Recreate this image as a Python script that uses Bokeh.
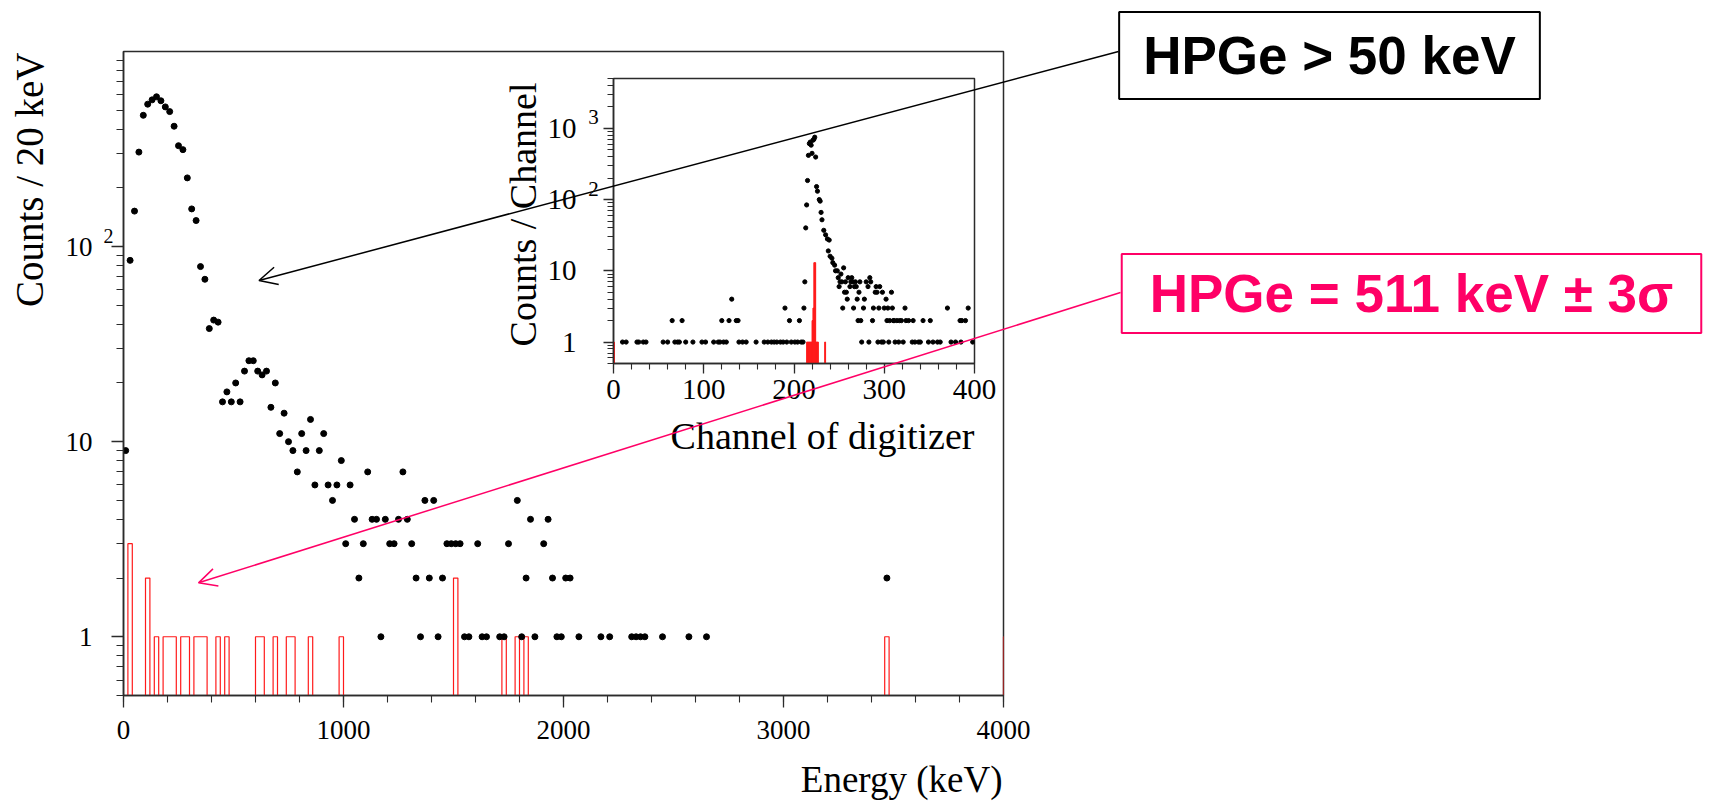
import math

from bokeh.plotting import figure
from bokeh.models import Range1d, FixedTicker, Label, Arrow, OpenHead, ColumnDataSource
from bokeh.embed import file_html
from bokeh.resources import INLINE

# ---------------- data ----------------
# HPGe > 50 keV: counts per 20 keV bin (bin centres, keV)
energy_kev = [
    10, 30, 50, 70, 90, 110, 130, 150, 170, 190,
    210, 230, 250, 270, 290, 310, 330, 350, 370, 390,
    410, 430, 450, 470, 490, 510, 530, 550, 570, 590,
    610, 630, 650, 670, 690, 710, 730, 750, 770, 790,
    810, 830, 850, 870, 890, 910, 930, 950, 970, 990,
    1010, 1030, 1050, 1070, 1090, 1110, 1130, 1150, 1170, 1190,
    1210, 1230, 1250, 1270, 1290, 1310, 1330, 1350, 1370, 1390,
    1410, 1430, 1450, 1470, 1490, 1510, 1530, 1550, 1570,
    1610, 1630, 1650, 1710, 1730, 1750, 1790, 1810, 1830, 1850, 1870,
    1910, 1930, 1950, 1970, 1990, 2010, 2030, 2070, 2170, 2210,
    2310, 2330, 2350, 2370, 2450, 2570, 2650, 3470,
]
counts_all = [
    9, 85, 152, 305, 471, 537, 565, 586, 559, 520,
    492, 414, 329, 314, 225, 156, 136, 79, 68, 38,
    42, 41, 16, 18, 16, 20, 16, 23, 26, 26,
    23, 22, 23, 15, 20, 11, 14, 10, 9, 7,
    11, 9, 13, 6, 9, 11, 6, 5, 6, 8,
    3, 6, 4, 2, 3, 7, 4, 4, 1, 4,
    3, 3, 4, 7, 4, 3, 2, 1, 5, 2,
    5, 1, 2, 3, 3, 3, 3, 1, 1,
    3, 1, 1, 1, 1, 3, 5, 1, 2, 4, 1,
    3, 4, 2, 1, 1, 2, 2, 1, 1, 1,
    1, 1, 1, 1, 1, 1, 1, 2,
]

# HPGe = 511 keV +- 3 sigma: non-empty 20 keV bins (lower edge, keV)
coinc_bin_low = [-20, 20, 100, 140, 180, 200, 220, 260, 280, 320, 340, 360, 420,
                 460, 600, 620, 680, 740, 760, 840, 980, 1500, 1720, 1780, 1820,
                 3460, 4000]
coinc_counts = [1, 3, 2, 1, 1, 1, 1, 1, 1, 1, 1, 1, 1,
                1, 1, 1, 1, 1, 1, 1, 1, 2, 1, 1, 1,
                1, 1]

# inset: counts per digitizer channel
inset_channel = [
    10, 14, 26, 28, 33, 36, 55, 60, 65, 68, 71, 73, 76, 80, 88, 98, 102, 111,
    116, 118, 120, 122, 125, 128, 131, 136, 138, 139, 143, 147, 158, 167, 171,
    175, 178, 181, 185, 188, 190, 192, 195, 197, 201, 204, 206, 208, 210, 211,
    212, 213, 214, 215, 216, 217, 218, 219, 220, 221, 222, 223, 224, 225, 226,
    228, 229, 230, 231, 233, 235, 237, 238, 239, 240, 242, 243, 245, 246, 248,
    249, 250, 251, 252, 253, 254, 255, 256, 257, 258, 259, 260, 262, 263, 264,
    265, 266, 267, 268, 269, 270, 271, 272, 273, 274, 275, 277, 278, 280, 282,
    283, 284, 285, 287, 288, 290, 291, 292, 293, 294, 295, 297, 298, 299, 300,
    302, 303, 304, 305, 306, 308, 309, 310, 311, 312, 314, 316, 317, 319, 321,
    323, 324, 327, 331, 332, 334, 338, 340, 343, 349, 351, 354, 359, 362, 370,
    374, 379, 384, 385, 386, 390, 393, 398,
]
inset_counts = [
    1, 1, 1, 1, 1, 1, 1, 1, 2, 1, 1, 1, 2, 1, 1, 1, 1, 1,
    1, 1, 2, 1, 1, 2, 4, 2, 2, 1, 1, 1, 1, 1, 1,
    1, 1, 1, 1, 1, 3, 1, 2, 1, 1, 1, 2, 1, 1, 3,
    7, 40, 84, 185, 417, 610, 640, 580, 445, 680, 700, 750, 395, 152, 131,
    100, 95, 66, 52, 37, 32, 28, 19, 27, 16, 15, 13, 12, 10, 10,
    8, 6, 7, 9, 7, 3, 11, 5, 7, 5, 4, 8, 6, 7, 8,
    7, 3, 6, 7, 6, 4, 2, 5, 7, 2, 1, 3, 4, 7, 6,
    1, 8, 7, 2, 3, 5, 6, 5, 1, 3, 6, 1, 5, 1, 3,
    4, 2, 3, 1, 2, 5, 3, 2, 2, 1, 2, 1, 2, 2, 1,
    3, 2, 2, 1, 2, 1, 1, 1, 2, 1, 2, 1, 1, 1, 3,
    1, 1, 2, 1, 2, 2, 3, 1,
]

# inset: 511 keV-gated events per channel
inset_gate_channel = [0, 214, 215, 216, 217, 218, 219, 220, 221, 222, 223, 224, 225, 226, 234]
inset_gate_counts = [1, 1, 1, 1, 1, 1, 1, 2, 3, 13, 13, 1, 1, 1, 1]

# ---------------- styles ----------------
SERIF = "Liberation Serif"
AXIS_COLOR = "#2b2b2b"
RED = "#ff1a1a"
PINK = "#ff0066"
FLOOR = 0.05  # empty bins are drawn below the visible log range
BIN = 20

PAGE_W, PAGE_H = 1709, 803
# main frame geometry (pixels)
M_LEFT, M_RIGHT, M_TOP, M_BOTTOM = 123, 706, 51, 108
X_MIN, X_MAX = 0, 4000
Y_MIN, Y_MAX = 0.5, 1000


def step_outline(lows, vals, width, start, stop):
    """Closed step outline of a histogram; empty bins sit on FLOOR."""
    filled = dict(zip(lows, vals))
    xs, ys = [start], [FLOOR]
    lo = start
    while lo < stop:
        v = filled.get(lo, 0)
        v = v if v > 0 else FLOOR
        xs += [lo, lo + width]
        ys += [v, v]
        lo += width
    xs.append(stop)
    ys.append(FLOOR)
    return xs, ys


def style_axes(fig, label_px, tick_out, minor_out):
    for ax in (fig.xaxis, fig.yaxis):
        ax.axis_line_color = AXIS_COLOR
        ax.axis_line_width = 1.5
        ax.major_tick_line_color = AXIS_COLOR
        ax.minor_tick_line_color = AXIS_COLOR
        ax.major_tick_line_width = 1.3
        ax.minor_tick_line_width = 1.1
        ax.major_tick_in = 0
        ax.minor_tick_in = 0
        ax.major_tick_out = tick_out
        ax.minor_tick_out = minor_out
        ax.major_label_text_font = SERIF
        ax.major_label_text_font_size = label_px
        ax.major_label_text_color = "black"
    fig.xgrid.visible = False
    fig.ygrid.visible = False
    fig.outline_line_color = AXIS_COLOR
    fig.outline_line_width = 1.5
    fig.background_fill_alpha = 0
    fig.border_fill_alpha = 0


# ---------------- main spectrum ----------------
p = figure(
    width=PAGE_W, height=PAGE_H,
    x_range=Range1d(X_MIN, X_MAX), y_range=Range1d(Y_MIN, Y_MAX), y_axis_type="log",
    output_backend="svg", toolbar_location=None,
    min_border_left=M_LEFT, min_border_right=M_RIGHT,
    min_border_top=M_TOP, min_border_bottom=M_BOTTOM,
)
style_axes(p, "27px", 12, 7)
p.xaxis.ticker = FixedTicker(ticks=[0, 1000, 2000, 3000, 4000],
                             minor_ticks=list(range(0, 4001, 200)))
main_minor = [m * 10 ** k for k in range(-1, 3) for m in range(2, 10)]
p.yaxis.ticker = FixedTicker(ticks=[1, 10, 100],
                             minor_ticks=[t for t in main_minor if Y_MIN <= t <= Y_MAX])
p.yaxis.major_label_overrides = {1: "1", 10: "10", 100: "10"}
p.xaxis.major_label_standoff = 13
p.yaxis.major_label_standoff = 19

hx, hy = step_outline(coinc_bin_low, coinc_counts, BIN, -20, 4020)
p.line(hx, hy, line_color=RED, line_width=1.2)
p.scatter(energy_kev, counts_all, size=6, marker="circle",
          fill_color="black", line_color="black")

# ---------------- inset: digitizer channels ----------------
INS_LEFT, INS_TOP = 480, 60
INS_W, INS_H = 520, 420
ins = figure(
    width=INS_W, height=INS_H,
    x_range=Range1d(0, 400), y_range=Range1d(0.5, 5000), y_axis_type="log",
    output_backend="svg", toolbar_location=None,
    min_border_left=133, min_border_right=INS_W - 133 - 361,
    min_border_top=18, min_border_bottom=INS_H - 18 - 285,
)
style_axes(ins, "29px", 10, 6)
ins.xaxis.ticker = FixedTicker(ticks=[0, 100, 200, 300, 400],
                               minor_ticks=list(range(0, 401, 20)))
ins_minor = [m * 10 ** k for k in range(-1, 4) for m in range(2, 10)]
ins.yaxis.ticker = FixedTicker(ticks=[1, 10, 100, 1000],
                               minor_ticks=[t for t in ins_minor if 0.5 <= t <= 5000])
ins.yaxis.major_label_overrides = {1: "1", 10: "10", 100: "10", 1000: "10"}
ins.xaxis.major_label_standoff = 6
ins.yaxis.major_label_standoff = 27

gate_src = ColumnDataSource(dict(
    left=inset_gate_channel,
    right=[c + 1 for c in inset_gate_channel],
    top=inset_gate_counts,
    bottom=[FLOOR] * len(inset_gate_counts),
))
ins.quad(left="left", right="right", top="top", bottom="bottom", source=gate_src,
         fill_color=RED, line_color=RED, line_width=1)
ins.scatter(inset_channel, inset_counts, size=4.2, marker="circle",
            fill_color="black", line_color="black")
ins.styles = {"position": "absolute", "left": f"{INS_LEFT}px", "top": f"{INS_TOP}px",
              "z-index": "1"}

# ---------------- overlay: titles and call-outs ----------------
# its data space coincides with the main spectrum, extended to the whole page
px_per_kev = (PAGE_W - M_LEFT - M_RIGHT) / (X_MAX - X_MIN)
px_per_dec = (PAGE_H - M_TOP - M_BOTTOM) / math.log10(Y_MAX / Y_MIN)
ov = figure(
    width=PAGE_W, height=PAGE_H,
    x_range=Range1d(X_MIN - M_LEFT / px_per_kev, X_MAX + M_RIGHT / px_per_kev),
    y_range=Range1d(Y_MIN / 10 ** (M_BOTTOM / px_per_dec), Y_MAX * 10 ** (M_TOP / px_per_dec)),
    y_axis_type="log", x_axis_location=None, y_axis_location=None, min_border=0,
    output_backend="svg", toolbar_location=None,
)
ov.grid.visible = False
ov.outline_line_color = None
ov.background_fill_alpha = 0
ov.border_fill_alpha = 0
ov.styles = {"position": "absolute", "left": "0px", "top": "0px", "z-index": "2"}

canvas = dict(x_units="canvas", y_units="canvas", text_font=SERIF, text_color="black",
              text_baseline="middle")

# axis titles (right-aligned at the end of each axis)
ov.add_layout(Label(x=1002, y=779, text="Energy (keV)", text_font_size="37px",
                    text_align="right", **canvas))
ov.add_layout(Label(x=29, y=52, text="Counts / 20 keV", text_font_size="39px",
                    angle=math.pi / 2, text_align="right", **canvas))
ov.add_layout(Label(x=974, y=435, text="Channel of digitizer", text_font_size="38px",
                    text_align="right", **canvas))
ov.add_layout(Label(x=522, y=82, text="Counts / Channel", text_font_size="38px",
                    angle=math.pi / 2, text_align="right", **canvas))

# exponents of the decade labels
sup = dict(text_align="center", **canvas)
ov.add_layout(Label(x=108, y=235, text="2", text_font_size="20px", **sup))
ov.add_layout(Label(x=593, y=188, text="2", text_font_size="21px", **sup))
ov.add_layout(Label(x=593, y=116, text="3", text_font_size="21px", **sup))

box_font = dict(text_font="Liberation Sans", text_font_style="bold",
                text_font_size="53px", text_align="center", text_baseline="middle",
                background_fill_color="white", border_line_width=2)
ov.add_layout(Label(x=1329, y=55, x_units="canvas", y_units="canvas",
                    text="HPGe > 50 keV", text_color="black",
                    border_line_color="black", padding=(24, 14), **box_font))
ov.add_layout(Label(x=1411, y=293, x_units="canvas", y_units="canvas",
                    text="HPGe = 511 keV ± 3σ", text_color=PINK,
                    border_line_color=PINK, padding=(28, 10), **box_font))
ov.add_layout(Arrow(x_start=1118, y_start=51, start_units="canvas",
                    x_end=616, y_end=67, end_units="data",
                    line_color="black", line_width=1.5,
                    end=OpenHead(size=18, line_color="black", line_width=1.5)))
ov.add_layout(Arrow(x_start=1120, y_start=292, start_units="canvas",
                    x_end=341, y_end=1.89, end_units="data",
                    line_color=PINK, line_width=1.5,
                    end=OpenHead(size=18, line_color=PINK, line_width=1.5)))

open("out.html", "w").write(file_html([p, ins, ov], INLINE))
